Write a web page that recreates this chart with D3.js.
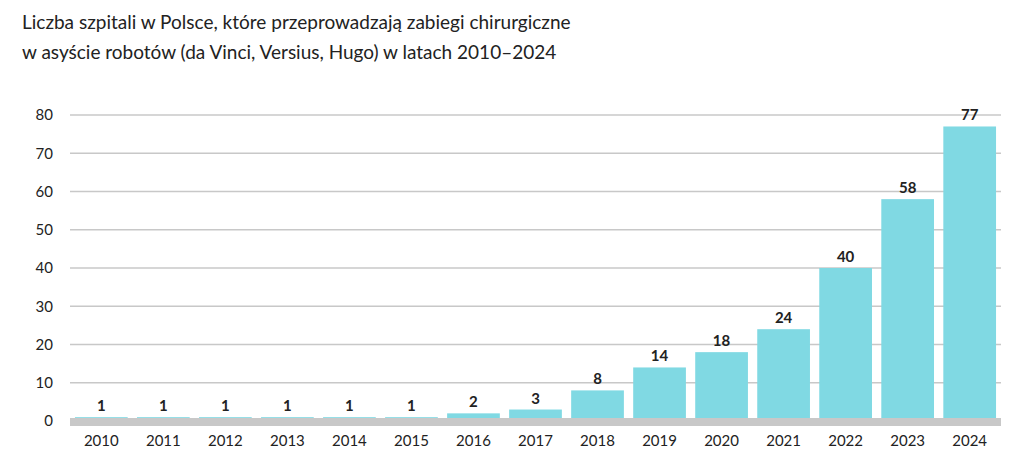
<!DOCTYPE html>
<html><head><meta charset="utf-8">
<script src="https://cdn.jsdelivr.net/npm/d3@7"></script>
<style>
body{margin:0;background:#fff;font-family:"Lato","Open Sans",sans-serif;}
</style></head>
<body><svg id="chart" width="1024" height="469"></svg>
<script>
const years = ['2010','2011','2012','2013','2014','2015','2016','2017','2018','2019','2020','2021','2022','2023','2024'];
const hospitals = [1,1,1,1,1,1,2,3,8,14,18,24,40,58,77];
const yTicks = [0,10,20,30,40,50,60,70,80];
const titleLines = ['Liczba szpitali w Polsce, które przeprowadzają zabiegi chirurgiczne',
  'w asyście robotów (da Vinci, Versius, Hugo) w latach 2010–2024'];

const svg = d3.select('#chart');
const plotLeft = 70, plotRight = 1001, plotTop = 115, plotBottom = 421;

const x = d3.scaleBand().domain(years).range([plotLeft, plotRight]).paddingInner(0.15).paddingOuter(0.08);
const y = d3.scaleLinear().domain([0, 80]).range([plotBottom, plotTop]);

svg.selectAll('.title').data(titleLines).join('text')
  .attr('x', 22).attr('y', (d, i) => 29 + i * 30)
  .attr('font-size', 19).attr('fill', '#222').text(d => d);

// grid
svg.append('g').selectAll('line').data(yTicks.filter(d => d > 0)).join('line')
  .attr('x1', plotLeft).attr('x2', plotRight)
  .attr('y1', d => y(d)).attr('y2', d => y(d))
  .attr('stroke', '#c8c8c8').attr('stroke-width', 1.5);

svg.append('g').selectAll('text').data(yTicks).join('text')
  .attr('x', 53).attr('y', d => y(d)).attr('dy', '0.35em')
  .attr('text-anchor', 'end').attr('font-size', 15).attr('fill', '#222').text(d => d);

svg.append('g').selectAll('rect').data(hospitals).join('rect')
  .attr('x', (d, i) => x(years[i])).attr('width', x.bandwidth())
  .attr('y', d => y(d)).attr('height', d => plotBottom - y(d))
  .attr('fill', '#80d9e3');

svg.append('rect').attr('x', plotLeft).attr('width', plotRight - plotLeft)
  .attr('y', plotBottom - 3).attr('height', 8).attr('fill', '#c8c8c8');

svg.append('g').selectAll('text').data(hospitals).join('text')
  .attr('x', (d, i) => x(years[i]) + x.bandwidth() / 2).attr('y', d => y(d) - 6)
  .attr('text-anchor', 'middle').attr('font-size', 15).attr('font-weight', 'bold')
  .attr('fill', '#222').text(d => d);

svg.append('g').selectAll('text').data(years).join('text')
  .attr('x', d => x(d) + x.bandwidth() / 2).attr('y', 446)
  .attr('text-anchor', 'middle').attr('font-size', 15).attr('fill', '#222').text(d => d);
</script></body></html>
